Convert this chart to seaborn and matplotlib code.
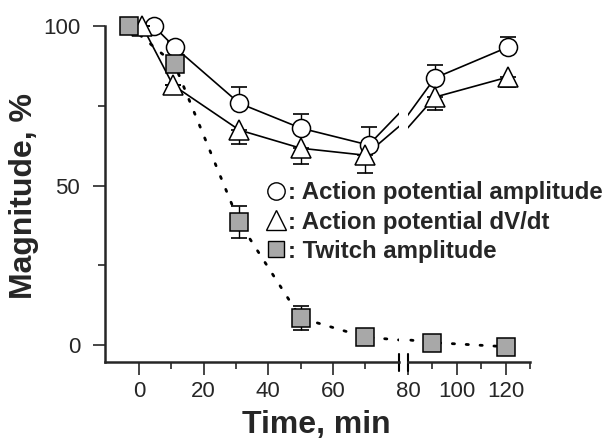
import matplotlib
matplotlib.use("Agg")
import matplotlib.pyplot as plt
import seaborn as sns
from matplotlib.lines import Line2D

# values
time_circle = [4.5, 11, 31, 50, 71, 91, 121]
ap_amp = [100, 93.4, 75.8, 68.0, 62.7, 83.7, 93.4]
ap_amp_err = [0, 1.5, 5.0, 4.4, 5.5, 4.0, 3.0]

time_tri = [1, 10.5, 31, 50, 70, 91, 121]
ap_dvdt = [100, 81.5, 67.4, 61.7, 59.5, 77.7, 84.0]
ap_dvdt_err = [0, 0, 4.5, 5.0, 5.5, 4.0, 3.0]

time_sq = [-3, 11, 31, 50, 70, 90, 120]
twitch = [100, 88.0, 38.5, 8.5, 2.5, 0.8, -0.5]
twitch_err = [0, 2.0, 5.0, 3.7, 0, 0, 0]

legend_labels = [": Action potential amplitude", ": Action potential dV/dt", ": Twitch amplitude"]

sns.set_style("ticks")
plt.rcParams["font.family"] = ["Liberation Sans", "DejaVu Sans"]

W, H = 607, 444
fig = plt.figure(figsize=(W / 100, H / 100), dpi=100)

def fx(px):
    return px / W

def fy(py):
    return 1 - py / H

# broken x axis: two axes side by side
ax1 = fig.add_axes([fx(105), fy(362), fx(399 - 105), fy(26) - fy(362)])
ax2 = fig.add_axes([fx(408), fy(362), fx(530 - 408), fy(26) - fy(362)])

sq_color = "#a8a8a8"
mk = 13

for ax, lo, hi in [(ax1, -10.5, 80.4), (ax2, 80, 130)]:
    sns.lineplot(x=time_circle, y=ap_amp, ax=ax, color="black", lw=1.2, sort=False,
                 estimator=None, zorder=2)
    sns.lineplot(x=time_tri, y=ap_dvdt, ax=ax, color="black", lw=1.2, sort=False,
                 estimator=None, zorder=2)
    sns.lineplot(x=time_sq, y=twitch, ax=ax, color="black", lw=2.0, sort=False,
                 estimator=None, zorder=2, dashes=False)
    ax.lines[-1].set_linestyle((0, (0.8, 4.2)))
    ax.lines[-1].set_dash_capstyle("round")

    def sel(t, v, e):
        idx = [i for i, x in enumerate(t) if lo <= x <= hi]
        return [t[i] for i in idx], [v[i] for i in idx], [e[i] for i in idx]

    t, v, e = sel(time_circle, ap_amp, ap_amp_err)
    ax.errorbar(t, v, yerr=[[0] * len(e), e], fmt="none", ecolor="black", elinewidth=1,
                capsize=6, capthick=1.2, zorder=3, clip_on=False)
    ax.plot(t, v, "o", ms=mk, mfc="white", mec="black", mew=1.1, zorder=4, clip_on=False)

    t, v, e = sel(time_tri, ap_dvdt, ap_dvdt_err)
    ax.errorbar(t, v, yerr=[e, [0] * len(e)], fmt="none", ecolor="black", elinewidth=1,
                capsize=6, capthick=1.2, zorder=5, clip_on=False)
    ax.plot(t, v, "^", ms=mk + 2, mfc="white", mec="black", mew=1.1, zorder=6, clip_on=False)

    t, v, e = sel(time_sq, twitch, twitch_err)
    ax.errorbar(t, v, yerr=e, fmt="none", ecolor="black", elinewidth=1,
                capsize=6, capthick=1.2, zorder=5, clip_on=False)
    ax.plot(t, v, "s", ms=mk - 0.5, mfc=sq_color, mec="black", mew=1.1, zorder=7,
            clip_on=False)

    ax.set_xlim(lo, hi)
    ax.set_ylim(-5.3, 100)
    ax.tick_params(axis="both", which="major", length=9, width=1.2, labelsize=16,
                   direction="out")
    ax.tick_params(axis="both", which="minor", length=5, width=1.2, direction="out")
    for s in ["top", "right"]:
        ax.spines[s].set_visible(False)
    ax.spines["bottom"].set_linewidth(1.8)
    ax.spines["left"].set_linewidth(1.8)
    ax.set_xlabel("")
    ax.set_ylabel("")
    ax.patch.set_alpha(0)

ax1.set_xticks([0, 20, 40, 60])
ax1.set_xticks([10, 30, 50, 70], minor=True)
ax1.set_yticks([0, 50, 100])
ax1.set_yticks([25, 75], minor=True)
ax1.tick_params(axis="y", which="major", pad=9)
ax1.tick_params(axis="x", which="major", pad=5)

ax2.spines["left"].set_visible(False)
ax2.set_yticks([])
ax2.set_xticks([80, 100, 120])
ax2.set_xticks([90, 110, 130], minor=True)
ax2.tick_params(axis="x", which="major", pad=5)

# break marks
for ax, xa in [(ax1, 1), (ax2, 0)]:
    ax.plot([xa, xa], [-0.027, 0.024], transform=ax.transAxes, color="black", lw=1.5,
            clip_on=False)

fig.text(fx(316), fy(425), "Time, min", ha="center", va="center", fontsize=23,
         fontweight="bold")
fig.text(fx(24), fy(196), "Magnitude, %", ha="center", va="center", rotation=90,
         fontsize=23, fontweight="bold")

handles = [
    Line2D([], [], marker="o", ls="none", ms=12.5, mfc="white", mec="black", mew=1),
    Line2D([], [], marker="^", ls="none", ms=15, mfc="white", mec="black", mew=1),
    Line2D([], [], marker="s", ls="none", ms=11.5, mfc=sq_color, mec="black", mew=1),
]
fig.legend(handles, legend_labels, loc="center left", bbox_to_anchor=(fx(266), fy(222)),
           frameon=False, prop={"weight": "bold", "size": 17.3}, handlelength=0.8,
           handletextpad=0.12, labelspacing=0.25, borderpad=0, borderaxespad=0)

fig.savefig("out.png", dpi=100)
